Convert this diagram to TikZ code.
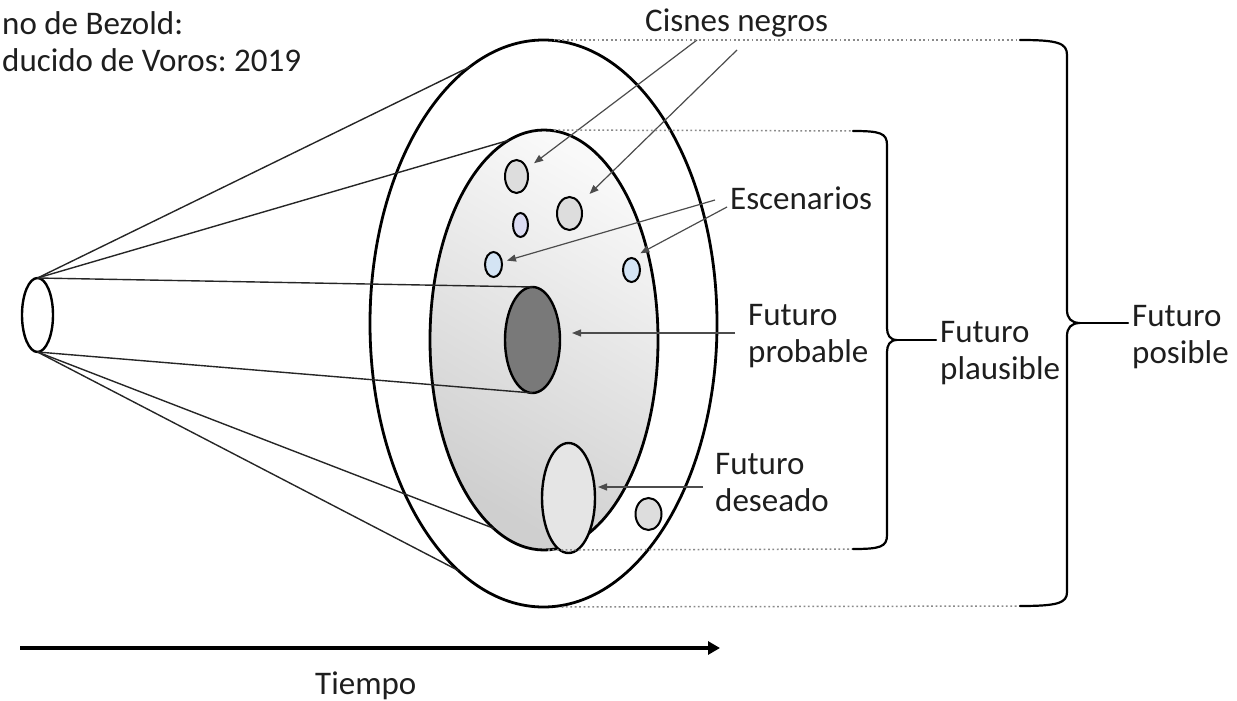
\documentclass[tikz,border=0pt]{standalone}
\usepackage{fontspec}
\setmainfont{Carlito}
\frenchspacing
\usetikzlibrary{shapes.geometric,arrows.meta,calc}
\definecolor{txt}{HTML}{1E1E1E}
\definecolor{lblue}{HTML}{D4E4F4}
\definecolor{lviolet}{HTML}{DCDCF2}
\definecolor{guidegray}{HTML}{8A8A8A}
\begin{document}
\begin{tikzpicture}[x=1pt,y=-1pt,
  ell/.style={ellipse, draw=black, inner sep=0pt, outer sep=0pt},
  bigell/.style={ell, line width=2.8pt},
  smallell/.style={ell, line width=2pt},
  conel/.style={draw=black!85, line width=1.4pt},
  arr/.style={draw=black!70, line width=1.2pt, -{Triangle[length=9pt,width=7pt]}},
  lbl/.style={inner sep=0pt, font=\fontsize{33}{37}\selectfont, text=txt, align=left},
  guide/.style={draw=guidegray, line width=1.5pt, dash pattern=on 1.8pt off 2.6pt},
  bracepath/.style={draw=black, line width=2.2pt, line cap=round, line join=round}
]
\useasboundingbox (0,0) rectangle (1237,701);

% ellipses
\node[bigell, minimum width=347pt, minimum height=567pt] (outer) at (543.5,323.5) {};
\node[bigell, minimum width=228pt, minimum height=420pt, top color=gray!5, bottom color=gray!38, shading angle=-30] (inner) at (544,340) {};
\node[ell, line width=2.4pt, minimum width=31pt, minimum height=74pt] (cone) at (37.5,315) {};
\node[ell, line width=2.4pt, fill=gray!95!black, minimum width=55pt, minimum height=106pt] (dark) at (532.5,340) {};

% cone lines
\draw[conel] (cone.north) -- (outer.106.5);
\draw[conel] (cone.north) -- (inner.100.3);
\draw[conel] (cone.north) -- (dark.north);
\draw[conel] (cone.south) -- (dark.south);
\draw[conel] (cone.south) -- (inner.255);
\draw[conel] (cone.south) -- (outer.251.8);

% small ellipses
\node[smallell, fill=gray!27, minimum width=23pt, minimum height=33pt] (c1) at (516.5,176.5) {};
\node[smallell, fill=gray!27, minimum width=25pt, minimum height=33pt] (c2) at (569.5,213.5) {};
\node[smallell, fill=gray!27, minimum width=26pt, minimum height=32pt] (c3) at (648.5,514) {};
\node[smallell, fill=lviolet, minimum width=15pt, minimum height=24pt] (e1) at (520.5,225) {};
\node[smallell, fill=lblue, minimum width=17pt, minimum height=25pt] (e2) at (493.5,264.5) {};
\node[smallell, fill=lblue, minimum width=17pt, minimum height=24pt] (e3) at (631.5,270) {};
\node[ell, line width=2.4pt, fill=gray!20, minimum width=53pt, minimum height=110pt] (des) at (568.5,498) {};

% labels (base anchor = baseline of last line)
\node[lbl, anchor=base west] (src) at (2,72) {no de Bezold:\\ducido de Voros: 2019};
\node[lbl, anchor=base west] (cisnes) at (645,32) {Cisnes negros};
\node[lbl, anchor=base west] (escen) at (730,209) {Escenarios};
\node[lbl, anchor=base west] (prob) at (748,362) {Futuro\\probable};
\node[lbl, anchor=base west] (deseo) at (715,511) {Futuro\\deseado};
\node[lbl, anchor=base west] (plaus) at (940,379) {Futuro\\plausible};
\node[lbl, anchor=base west] (posib) at (1132,363) {Futuro\\posible};
\node[lbl, anchor=base west] (tiempo) at (315,694) {Tiempo};

% arrows
\coordinate (a1) at (697,40);
\coordinate (a2) at (737,50);
\coordinate (a3) at (715,200);
\coordinate (a4) at (727,207);
\coordinate (a5) at (735,333);
\coordinate (a6) at (703,487);
\draw[arr, shorten >=22pt] (a1) -- (c1.center);
\draw[arr, shorten >=28pt] (a2) -- (c2.center);
\draw[arr, shorten >=14pt] (a3) -- (e2.center);
\draw[arr, shorten >=10pt] (a4) -- (e3.north);
\draw[arr, shorten >=12pt] (a5) -- (a5 -| dark.east);
\draw[arr, shorten >=3pt] (a6) -- (a6 -| des.east);

% guides and braces
\coordinate (obt) at (1020,40);
\coordinate (obb) at (1020,606);
\coordinate (obtip) at (1080,323);
\coordinate (pbt) at (853,131);
\coordinate (pbb) at (853,549);
\coordinate (pbtip) at (897,340);
\draw[guide] ([xshift=10pt]outer.north) -- (obt);
\draw[guide] ([xshift=18pt]outer.south) -- (obb);
\draw[guide] ([xshift=10pt]inner.north) -- (pbt);
\draw[guide] ([xshift=4pt]inner.south) -- (pbb);

\draw[bracepath] (pbt) .. controls (880,131) and (887,133) .. (887,145) -- (887,328)
  .. controls (887,335) and (890,340) .. (pbtip)
  .. controls (890,340) and (887,345) .. (887,352) -- (887,535)
  .. controls (887,547) and (880,549) .. (pbb);
\draw[bracepath] (pbtip) -- ([xshift=-4pt]pbtip -| plaus.west);

\draw[bracepath] (obt) .. controls (1058,40) and (1067,43) .. (1067,55) -- (1067,310)
  .. controls (1067,318) and (1071,323) .. (obtip)
  .. controls (1071,323) and (1067,328) .. (1067,336) -- (1067,592)
  .. controls (1067,603) and (1058,606) .. (obb);
\draw[bracepath] (obtip) -- ([xshift=-4pt]obtip -| posib.west);

% time axis
\coordinate (t0) at (20,648);
\coordinate (t1) at (720,648);
\draw[line width=3.5pt, -{Triangle[length=12pt,width=13pt]}] (t0) -- (t1);
\end{tikzpicture}
\end{document}
